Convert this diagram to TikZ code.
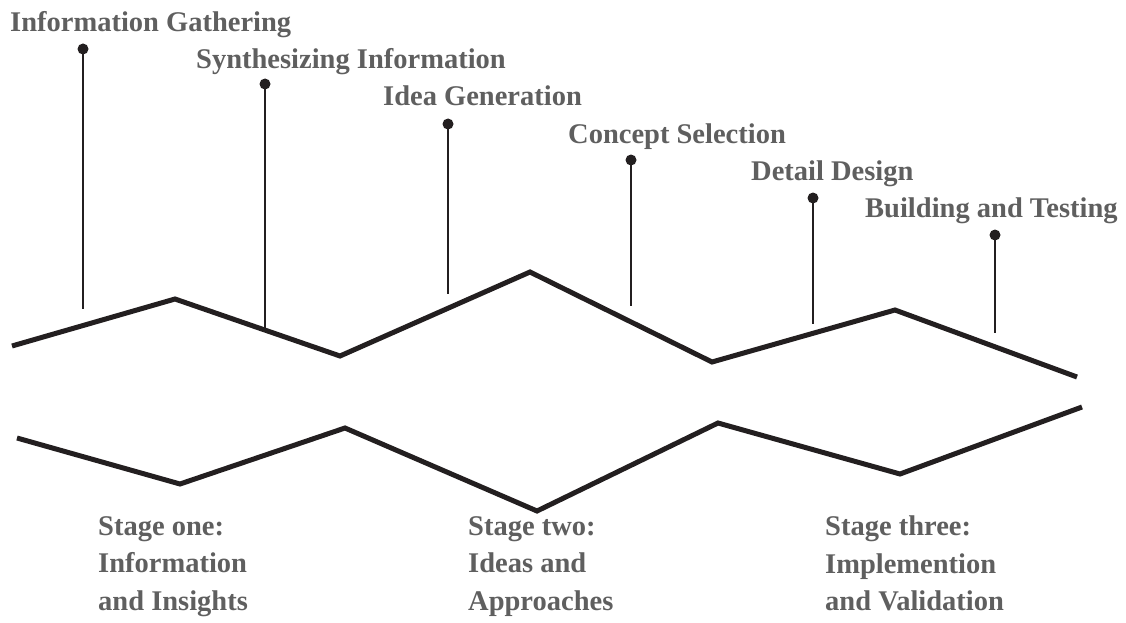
\documentclass[tikz,border=0pt]{standalone}
\usepackage{fontspec}
\setmainfont{Liberation Serif}
\definecolor{labelgrey}{RGB}{95,95,95}
\definecolor{linecol}{RGB}{35,31,32}
\begin{document}
\begin{tikzpicture}[x=1pt,y=-1pt,
  zig/.style={draw=linecol,line width=5pt,line join=miter},
  stem/.style={draw=linecol,line width=2.6pt},
  dot/.style={circle,fill=linecol,inner sep=0pt,minimum size=11pt},
  steplabel/.style={anchor=base west,inner sep=0pt,text=labelgrey,font=\fontsize{28.5}{34}\selectfont\bfseries},
  stagelabel/.style={anchor=north west,inner sep=0pt,align=left,text=labelgrey,font=\fontsize{28.5}{37.5}\selectfont\bfseries}]
\useasboundingbox (0,0) rectangle (1126,623);
% zigzags
\coordinate (t1) at (12,346);
\coordinate (t2) at (175,299);
\coordinate (t3) at (340,356);
\coordinate (t4) at (530,272);
\coordinate (t5) at (712,362);
\coordinate (t6) at (895,310);
\coordinate (t7) at (1077,377);
\draw[zig] (t1) -- (t2) -- (t3) -- (t4) -- (t5) -- (t6) -- (t7);
\coordinate (b1) at (17,438);
\coordinate (b2) at (180,484);
\coordinate (b3) at (345,428);
\coordinate (b4) at (537,511);
\coordinate (b5) at (718,423);
\coordinate (b6) at (900,474);
\coordinate (b7) at (1082,407);
\draw[zig] (b1) -- (b2) -- (b3) -- (b4) -- (b5) -- (b6) -- (b7);
% stems
\node[dot] (d1) at (83,49) {};
\node[dot] (d2) at (265,84) {};
\node[dot] (d3) at (448,124) {};
\node[dot] (d4) at (631,160) {};
\node[dot] (d5) at (813,198) {};
\node[dot] (d6) at (995,235) {};
\coordinate (e1) at (83,309);
\coordinate (e2) at (265,330);
\coordinate (e3) at (448,294);
\coordinate (e4) at (631,306);
\coordinate (e5) at (813,324);
\coordinate (e6) at (995,333);
\foreach \i in {1,...,6} \draw[stem] (d\i.center) -- (e\i);
% step labels
\node[steplabel] (l1) at (10,32) {Information Gathering};
\node[steplabel] (l2) at (196,69) {Synthesizing Information};
\node[steplabel] (l3) at (383,106) {Idea Generation};
\node[steplabel] (l4) at (568,143) {Concept Selection};
\node[steplabel] (l5) at (751,180) {Detail Design};
\node[steplabel] (l6) at (865,217) {Building and Testing};
% stage labels
\node[stagelabel] (s1) at (98,516) {Stage one:\\Information\\and Insights};
\node[stagelabel] (s2) at (468,516) {Stage two:\\Ideas and\\Approaches};
\node[stagelabel] (s3) at (825,516) {Stage three:\\Implemention\\and Validation};
\end{tikzpicture}
\end{document}
